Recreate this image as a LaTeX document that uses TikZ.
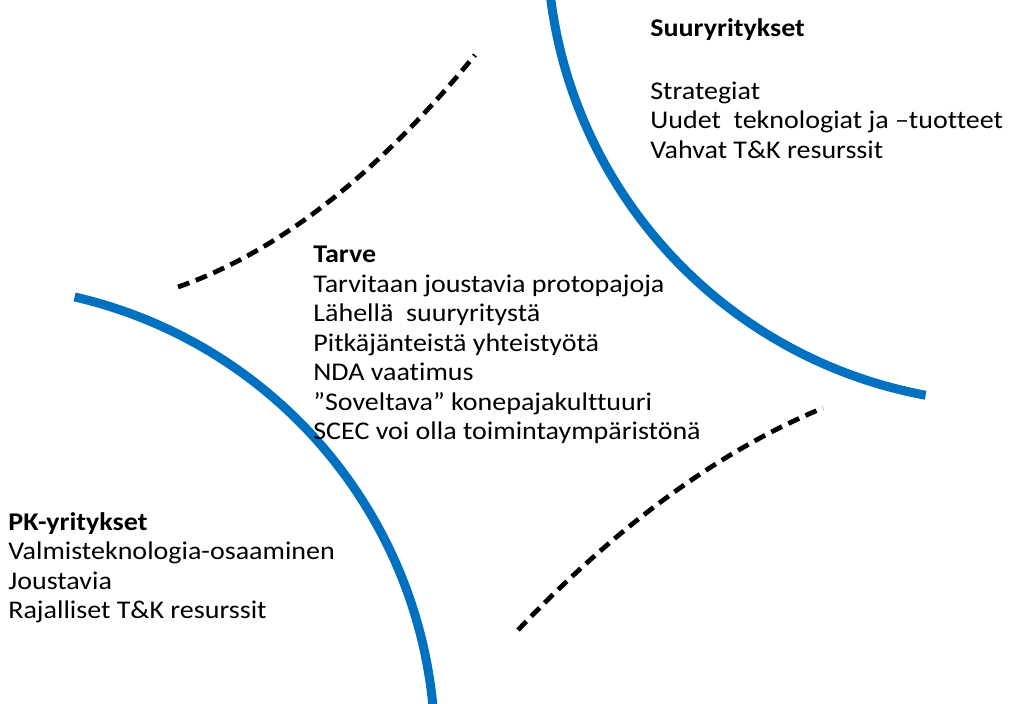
\documentclass[tikz,border=0pt]{standalone}
\usepackage{fontspec}
\setmainfont{Carlito}[FakeStretch=1.1,Ligatures={TeX,NoCommon}]
\definecolor{kaariblue}{HTML}{0070C0}

\begin{document}
\begin{tikzpicture}[x=0.02cm,y=-0.02cm,
		kaari/.style={line width=0.18cm,kaariblue},
		katko/.style={line width=0.095cm,black,dash pattern=on 0.24cm off 0.14cm},
		teksti/.style={anchor=north west,inner sep=0pt,align=left,font=\fontsize{14.5}{16.8}\selectfont}]
			\useasboundingbox (0,0) rectangle (1010,703);
			\clip (0,0) rectangle (1010,703);
%			\draw[help lines,step=50] (0,0) grid (1010,703);
			% blue arcs
			\foreach \cx/\cy/\r/\a/\b in {1010/-60/463/176/100.5, -30/750/465/-77/-2} {
				\draw[kaari] ([shift={(\a:\r)}]\cx,\cy) arc[start angle=\a, end angle=\b, radius=\r];
			};
			% dashed arcs
			\draw[katko] (178,287) .. controls (278,252) and (377,175) .. (475,55);
			\draw[katko] (518,630) .. controls (619,524) and (721,450) .. (823,408);
			% texts
			\node[teksti] (suur) at (650,18) {\textbf{Suuryritykset}\\[19pt]Strategiat\\Uudet\ \ teknologiat ja –tuotteet\\Vahvat T\&K resurssit};
			\node[teksti] (tarve) at (313,246) {\textbf{Tarve}\\Tarvitaan joustavia protopajoja\\Lähellä\ \ suuryritystä\\Pitkäjänteistä yhteistyötä\\NDA vaatimus\\”Soveltava” konepajakulttuuri\\SCEC voi olla toimintaympäristönä};
			\node[teksti] (pk) at (8,512) {\textbf{PK-yritykset}\\Valmisteknologia-osaaminen\\Joustavia\\Rajalliset T\&K resurssit};
		\end{tikzpicture}
\end{document}
